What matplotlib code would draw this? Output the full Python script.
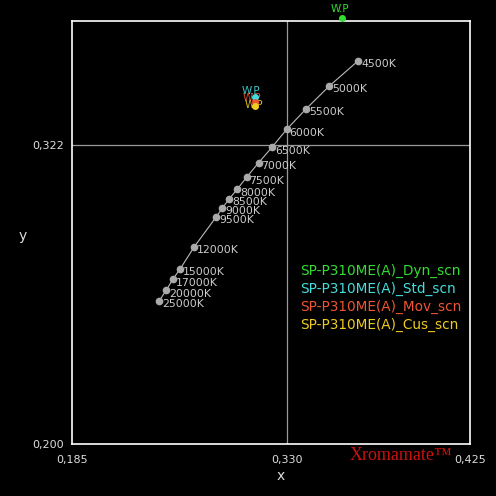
import numpy as np
import matplotlib
matplotlib.use("Agg")
import matplotlib.pyplot as plt

# CCT locus points
cct_labels = ["4500K", "5000K", "5500K", "6000K", "6500K", "7000K", "7500K", "8000K",
              "8500K", "9000K", "9500K", "12000K", "15000K", "17000K", "20000K", "25000K"]
cct_x = [0.3670, 0.3520, 0.3400, 0.3298, 0.3199, 0.3109, 0.3028, 0.2965,
         0.2911, 0.2864, 0.2823, 0.2675, 0.2580, 0.2531, 0.2486, 0.2439]
cct_y = [0.3564, 0.3461, 0.3368, 0.3284, 0.3211, 0.3148, 0.3089, 0.3040,
         0.3001, 0.2963, 0.2927, 0.2805, 0.2715, 0.2673, 0.2628, 0.2585]

# White points per mode
wp_names = ["SP-P310ME(A)_Dyn_scn", "SP-P310ME(A)_Std_scn",
            "SP-P310ME(A)_Mov_scn", "SP-P310ME(A)_Cus_scn"]
wp_x = [0.3587, 0.3084, 0.3084, 0.3085]
wp_y = [0.3739, 0.3414, 0.3397, 0.3380]
wp_colors = ["#33dd33", "#44dddd", "#ee5533", "#eecc22"]

x_ticks = [0.185, 0.330, 0.425]
y_ticks = [0.200, 0.322]

# piecewise x scale
xs_data = [0.185, 0.330, 0.425]
xs_px = [0.0, 215.0, 398.0]
def fwd(v):
    return np.interp(v, xs_data, xs_px)
def inv(v):
    return np.interp(v, xs_px, xs_data)

fig = plt.figure(figsize=(4.96, 4.96), dpi=100, facecolor="black")
ax = fig.add_axes([72/496, 52/496, 398/496, 423/496], facecolor="black")
ax.set_xscale("function", functions=(fwd, inv))
ax.set_xlim(0.185, 0.425)
ax.set_ylim(0.200, 0.3726)

for s in ax.spines.values():
    s.set_color("white")
    s.set_linewidth(1.2)

ax.axvline(0.330, color="#999999", lw=0.9)
ax.axhline(0.322, color="#999999", lw=0.9)

ax.set_xticks(x_ticks)
ax.set_xticklabels([f"{v:.3f}".replace(".", ",") for v in x_ticks])
ax.set_yticks(y_ticks)
ax.set_yticklabels([f"{v:.3f}".replace(".", ",") for v in y_ticks])
ax.tick_params(length=0, colors="#dddddd", labelsize=8, pad=6)
ax.tick_params(axis="x", pad=8)
ax.set_xlabel("x", color="#dddddd", fontsize=10, labelpad=0)
ax.set_ylabel("y", color="#dddddd", fontsize=10, rotation=0)
ax.yaxis.set_label_coords(-0.125, 0.475)
ax.xaxis.set_label_coords(0.525, -0.058)

ax.plot(cct_x, cct_y, color="#bbbbbb", lw=0.8, marker="o", ms=4.5,
        markerfacecolor="#aaaaaa", markeredgecolor="#aaaaaa", zorder=3)
for lx, ly, lab in zip(cct_x, cct_y, cct_labels):
    ax.annotate(lab, (lx, ly), xytext=(2, -2.5), textcoords="offset points",
                color="#cccccc", fontsize=7.8, va="center", ha="left")

offs = [(0, 0), (0, 0), (1, -2), (2, -4)]
for i, (px, py, c) in enumerate(zip(wp_x, wp_y, wp_colors)):
    ax.plot(px, py, "o", color=c, ms=4, clip_on=False, zorder=5)
    if i == 0:
        ax.annotate("W.P", (px, py), xytext=(-2, 3), textcoords="offset points",
                    color=c, fontsize=7.5, ha="center", va="bottom", annotation_clip=False)
    else:
        ax.annotate("W.P", (px, py), xytext=(-3 + offs[i][0], 1 + offs[i][1]),
                    textcoords="offset points", color=c, fontsize=7.5,
                    ha="center", va="bottom", alpha=0.9)

for i, (name, c) in enumerate(zip(wp_names, wp_colors)):
    fig.text(300/496, 1 - (271 + i * 18) / 496, name, color=c, fontsize=9.8,
             ha="left", va="center")

fig.text(350/496, 1 - 455/496, "Xromamate\u2122", color="#cc1111",
         fontsize=13, family="Liberation Serif", ha="left", va="center")

fig.savefig("out.png", dpi=100, facecolor="black")
